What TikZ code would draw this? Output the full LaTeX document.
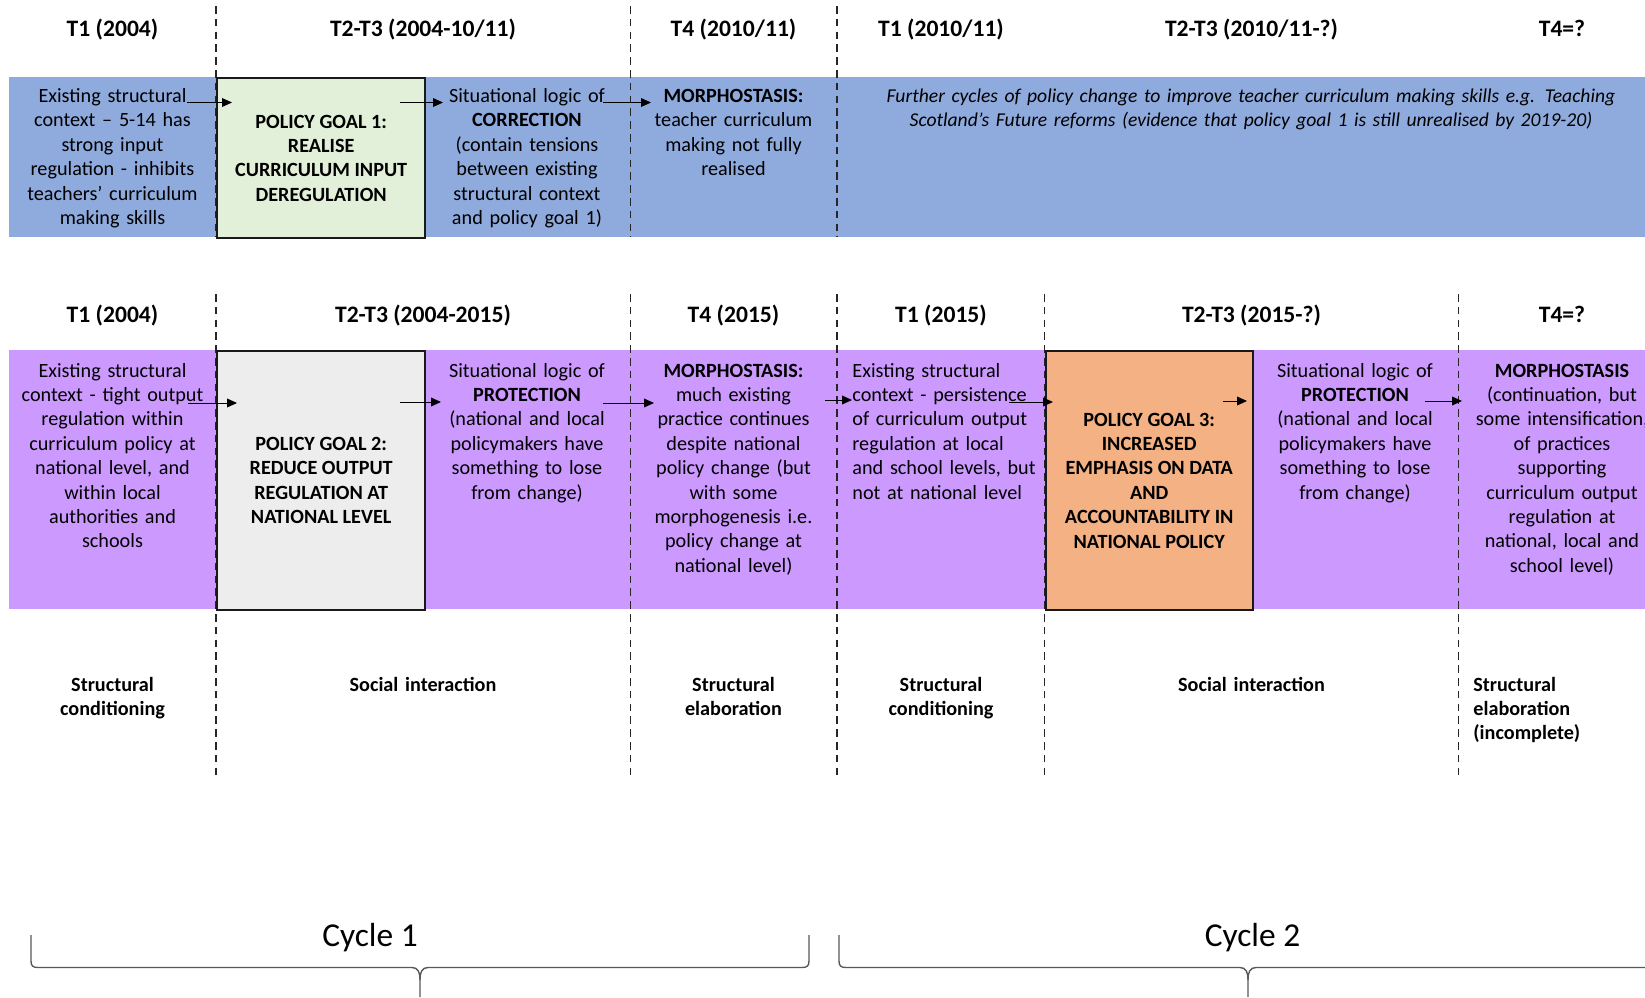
\documentclass[tikz,border=0pt]{standalone}
\usepackage{fontspec}
\setmainfont{Carlito}
\usetikzlibrary{arrows.meta}

\definecolor{bandblue}{HTML}{8FAADC}
\definecolor{bandpurple}{HTML}{CC99FF}
\definecolor{goalgreen}{HTML}{E2F0D9}
\definecolor{goalgray}{HTML}{EDEDED}
\definecolor{goalorange}{HTML}{F4B183}

\newcommand{\bodysize}{\fontsize{10.1pt}{12.2pt}\selectfont}
\newcommand{\notesize}{\fontsize{9.8pt}{12.2pt}\selectfont\itshape}
\newcommand{\headsize}{\fontsize{11.8pt}{14pt}\selectfont\bfseries}
\newcommand{\cyclesize}{\fontsize{16.7pt}{20pt}\selectfont}

\begin{document}
\begin{tikzpicture}[x=0.5pt,y=-0.5pt,
  cell/.style={anchor=base, inner sep=0pt, text width=100pt, align=center, font=\bodysize},
  leftcell/.style={anchor=base west, inner sep=0pt, text width=100pt, align=left, font=\bodysize},
  heading/.style={anchor=base, inner sep=0pt, font=\headsize},
  goal/.style={draw=black!90, line width=1.2pt, anchor=north west, inner sep=0pt,
               align=center, font=\bodysize\bfseries},
  phase/.style={anchor=base, inner sep=0pt, text width=100pt, align=center, font=\bodysize\bfseries},
  cyclelabel/.style={anchor=base, inner sep=0pt, font=\cyclesize},
  sep/.style={draw=black!85, line width=0.8pt, dash pattern=on 3.8pt off 2.6pt},
  flow/.style={draw=black, line width=0.5pt, -{Triangle[length=5pt,width=4.4pt]}},
  brace/.style={draw=black!65, line width=0.7pt},
]
\path[use as bounding box] (0,0) rectangle (1645,997);
\clip (0,0) rectangle (1645,997);
\fill[white] (0,0) rectangle (1645,997);

% ---------- background bands ----------
\fill[bandblue]   (9,77)  rectangle (1660,237);
\fill[bandpurple] (9,350) rectangle (1660,608.5);

% ---------- phase separators ----------
\foreach \x in {216,630.5,837}
  \draw[sep] (\x,6) -- (\x,237);
\foreach \x in {216,630.5,837,1044.5,1458.5}
  \draw[sep] (\x,294) -- (\x,778);

% ---------- policy goal boxes ----------
\node[goal, fill=goalgreen, minimum width=104pt, minimum height=80pt] (goal1) at (216,77)
  {POLICY GOAL 1:\\REALISE\\CURRICULUM INPUT\\DEREGULATION};
\node[goal, fill=goalgray, minimum width=104pt, minimum height=129.25pt] (goal2) at (216,350)
  {POLICY GOAL 2:\\REDUCE OUTPUT\\REGULATION AT\\NATIONAL LEVEL};
\node[goal, fill=goalorange, minimum width=103.5pt, minimum height=129.25pt] (goal3) at (1044.5,350)
  {POLICY GOAL 3:\\INCREASED\\EMPHASIS ON DATA\\AND\\ACCOUNTABILITY IN\\NATIONAL POLICY};

% ---------- headings ----------
\node[heading] (h1a) at (112.5,36) {T1 (2004)};
\node[heading] (h1b) at (423,36) {T2-T3 (2004-10/11)};
\node[heading] (h1c) at (733.5,36) {T4 (2010/11)};
\node[heading] (h1d) at (941,36) {T1 (2010/11)};
\node[heading] (h1e) at (1251.5,36) {T2-T3 (2010/11-?)};
\node[heading] (h1f) at (1562,36) {T4=?};

\node[heading] (h2a) at (112.5,322) {T1 (2004)};
\node[heading] (h2b) at (423,322) {T2-T3 (2004-2015)};
\node[heading] (h2c) at (733.5,322) {T4 (2015)};
\node[heading] (h2d) at (941,322) {T1 (2015)};
\node[heading] (h2e) at (1251.5,322) {T2-T3 (2015-?)};
\node[heading] (h2f) at (1562,322) {T4=?};

% ---------- first cycle (top band) ----------
\node[cell] (ctx1) at (112.5,102.5)
  {Existing structural\\context – 5-14 has\\strong input\\regulation - inhibits\\teachers’ curriculum\\making skills};
\node[cell] (corr) at (527,102.5)
  {Situational logic of\\\textbf{CORRECTION}\\(contain tensions\\between existing\\structural context\\and policy goal 1)};
\node[cell] (morph1) at (733.5,102.5)
  {\textbf{MORPHOSTASIS:}\\teacher curriculum\\making not fully\\realised};
\node[cell, text width=400pt, font=\notesize] (further) at (1251,102.5)
  {Further cycles of policy change to improve teacher curriculum making skills e.g. Teaching\\Scotland’s Future reforms (evidence that policy goal 1 is still unrealised by 2019-20)};

% ---------- second cycle (bottom band) ----------
\node[cell] (ctx2) at (112.5,377)
  {Existing structural\\context - tight output\\regulation within\\curriculum policy at\\national level, and\\within local\\authorities and\\schools};
\node[cell] (prot1) at (527,377)
  {Situational logic of\\\textbf{PROTECTION}\\(national and local\\policymakers have\\something to lose\\from change)};
\node[cell] (morph2) at (733.5,377)
  {\textbf{MORPHOSTASIS:}\\much existing\\practice continues\\despite national\\policy change (but\\with some\\morphogenesis i.e.\\policy change at\\national level)};
\node[leftcell] (ctx3) at (852,377)
  {Existing structural\\context - persistence\\of curriculum output\\regulation at local\\and school levels, but\\not at national level};
\node[cell] (prot2) at (1355,377)
  {Situational logic of\\\textbf{PROTECTION}\\(national and local\\policymakers have\\something to lose\\from change)};
\node[cell] (morph3) at (1562,377)
  {\textbf{MORPHOSTASIS}\\(continuation, but\\some intensification,\\of practices\\supporting\\curriculum output\\regulation at\\national, local and\\school level)};

% ---------- phase labels ----------
\node[phase] (pa) at (112.5,691) {Structural\\conditioning};
\node[phase] (pb) at (423,691) {Social interaction};
\node[phase] (pc) at (733.5,691) {Structural\\elaboration};
\node[phase] (pd) at (941,691) {Structural\\conditioning};
\node[phase] (pe) at (1251.5,691) {Social interaction};
\node[phase, anchor=base west, align=left] (pf) at (1473,691) {Structural\\elaboration\\(incomplete)};

% ---------- flow arrows ----------
\coordinate (ta0) at (187,102.5);   \coordinate (ta1) at (232,102.5);
\coordinate (tb0) at (400,102.5);   \coordinate (tb1) at (443,102.5);
\coordinate (tc0) at (603,102.5);   \coordinate (tc1) at (651,102.5);
\draw[flow] (ta0) -- (ta1);
\draw[flow] (tb0) -- (tb1);
\draw[flow] (tc0) -- (tc1);

\coordinate (ba0) at (188,403);   \coordinate (ba1) at (237,403);
\coordinate (bb0) at (400,402);   \coordinate (bb1) at (441,402);
\coordinate (bc0) at (603,403);   \coordinate (bc1) at (654,403);
\coordinate (bd0) at (825,400);   \coordinate (bd1) at (852,400);
\coordinate (be0) at (1009,402);  \coordinate (be1) at (1053,402);
\coordinate (bf0) at (1223,401);  \coordinate (bf1) at (1247,401);
\coordinate (bg0) at (1425,401);  \coordinate (bg1) at (1462,401);
\draw[flow] (ba0) -- (ba1);
\draw[flow] (bb0) -- (bb1);
\draw[flow] (bc0) -- (bc1);
\draw[flow] (bd0) -- (bd1);
\draw[flow] (be0) -- (be1);
\draw[flow] (bf0) -- (bf1);
\draw[flow] (bg0) -- (bg1);

% ---------- cycle braces ----------
\draw[brace] (31,935) -- (31,961) .. controls (31,966) and (33,967.5) .. (38,967.5)
  -- (412,967.5) .. controls (418,967.5) and (420,972) .. (420,980) -- (420,997);
\draw[brace] (420,980) .. controls (420,972) and (422,967.5) .. (428,967.5)
  -- (802,967.5) .. controls (807,967.5) and (809,966) .. (809,961) -- (809,935);
\draw[brace] (839,935) -- (839,961) .. controls (839,966) and (841,967.5) .. (846,967.5)
  -- (1240,967.5) .. controls (1246,967.5) and (1248,972) .. (1248,980) -- (1248,997);
\draw[brace] (1248,980) .. controls (1248,972) and (1250,967.5) .. (1256,967.5)
  -- (1650,967.5) .. controls (1655,967.5) and (1657,966) .. (1657,961) -- (1657,935);

\node[cyclelabel] (cyc1) at (370,946.5) {Cycle 1};
\node[cyclelabel] (cyc2) at (1252.5,946.5) {Cycle 2};
\end{tikzpicture}
\end{document}
